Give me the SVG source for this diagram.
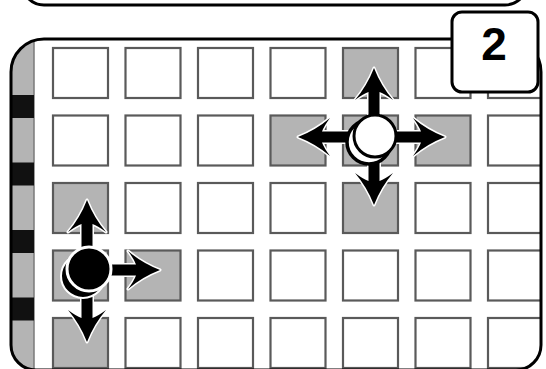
<svg xmlns="http://www.w3.org/2000/svg" width="546" height="369" viewBox="0 0 546 369">
<style>
.cell{fill:#fff;stroke:#5a5a5a;stroke-width:2.2}
.hl{fill:#b4b4b4}
.arrow{fill:#000;stroke:#fff;stroke-width:3;stroke-linejoin:round;paint-order:stroke}
.frame{fill:none;stroke:#000;stroke-width:3}
</style>
<defs>
<clipPath id="pc"><path d="M11,72 A33,33 0 0 1 44,39 L508,39 A33,33 0 0 1 541,72 L541,345 A25,25 0 0 1 516,370 L36,370 A25,25 0 0 1 11,345 Z"/></clipPath>
<path id="ar" d="M0,0 Q7,18 19,32 Q11,26 5.5,24 L5.5,60 L-5.5,60 L-5.5,24 Q-11,26 -19,32 Q-7,18 0,0 Z"/>
</defs>
<rect x="0" y="0" width="546" height="369" fill="#fff"/>
<g id="top-box"><rect x="22" y="-60" width="505" height="65" rx="22" class="frame"/></g>
<g id="board">
<path d="M11,72 A33,33 0 0 1 44,39 L508,39 A33,33 0 0 1 541,72 L541,345 A25,25 0 0 1 516,370 L36,370 A25,25 0 0 1 11,345 Z" fill="#fff"/>
<g clip-path="url(#pc)">
<rect x="11" y="39" width="23" height="331" fill="#b4b4b4"/>
<line x1="34" y1="39" x2="34" y2="370" stroke="#7a7a7a" stroke-width="1.5"/>
<rect x="11" y="95" width="23" height="23" fill="#111"/>
<rect x="11" y="162.5" width="23" height="23" fill="#111"/>
<rect x="11" y="230" width="23" height="23" fill="#111"/>
<rect x="11" y="297.5" width="23" height="23" fill="#111"/>
<g id="cells">
<rect class="cell" x="53" y="48" width="55" height="50"/><rect class="cell" x="125.5" y="48" width="55" height="50"/><rect class="cell" x="198" y="48" width="55" height="50"/><rect class="cell" x="270.5" y="48" width="55" height="50"/><rect class="cell hl" x="343" y="48" width="55" height="50"/><rect class="cell" x="415.5" y="48" width="55" height="50"/><rect class="cell" x="488" y="48" width="55" height="50"/>
<rect class="cell" x="53" y="115.5" width="55" height="50"/><rect class="cell" x="125.5" y="115.5" width="55" height="50"/><rect class="cell" x="198" y="115.5" width="55" height="50"/><rect class="cell hl" x="270.5" y="115.5" width="55" height="50"/><rect class="cell hl" x="343" y="115.5" width="55" height="50"/><rect class="cell hl" x="415.5" y="115.5" width="55" height="50"/><rect class="cell" x="488" y="115.5" width="55" height="50"/>
<rect class="cell hl" x="53" y="183" width="55" height="50"/><rect class="cell" x="125.5" y="183" width="55" height="50"/><rect class="cell" x="198" y="183" width="55" height="50"/><rect class="cell" x="270.5" y="183" width="55" height="50"/><rect class="cell hl" x="343" y="183" width="55" height="50"/><rect class="cell" x="415.5" y="183" width="55" height="50"/><rect class="cell" x="488" y="183" width="55" height="50"/>
<rect class="cell hl" x="53" y="250.5" width="55" height="50"/><rect class="cell hl" x="125.5" y="250.5" width="55" height="50"/><rect class="cell" x="198" y="250.5" width="55" height="50"/><rect class="cell" x="270.5" y="250.5" width="55" height="50"/><rect class="cell" x="343" y="250.5" width="55" height="50"/><rect class="cell" x="415.5" y="250.5" width="55" height="50"/><rect class="cell" x="488" y="250.5" width="55" height="50"/>
<rect class="cell hl" x="53" y="318" width="55" height="50"/><rect class="cell" x="125.5" y="318" width="55" height="50"/><rect class="cell" x="198" y="318" width="55" height="50"/><rect class="cell" x="270.5" y="318" width="55" height="50"/><rect class="cell" x="343" y="318" width="55" height="50"/><rect class="cell" x="415.5" y="318" width="55" height="50"/><rect class="cell" x="488" y="318" width="55" height="50"/>
</g>
</g>
<path d="M11,72 A33,33 0 0 1 44,39 L508,39 A33,33 0 0 1 541,72 L541,345 A25,25 0 0 1 516,370 L36,370 A25,25 0 0 1 11,345 Z" class="frame"/>
</g>
<g id="connectors">
<use href="#ar" class="arrow" transform="translate(374,68)"/>
<use href="#ar" class="arrow" transform="translate(298,137) rotate(-90)"/>
<use href="#ar" class="arrow" transform="translate(445,137) rotate(90)"/>
<use href="#ar" class="arrow" transform="translate(374,205) rotate(180)"/>
<use href="#ar" class="arrow" transform="translate(87,200)"/>
<use href="#ar" class="arrow" transform="translate(160,270) rotate(90)"/>
<use href="#ar" class="arrow" transform="translate(87,342) rotate(180)"/>
</g>
<g id="white-token">
<circle cx="369" cy="142" r="22" fill="#fff" stroke="#000" stroke-width="3.5"/>
<circle cx="375" cy="136" r="21" fill="#fff" stroke="#000" stroke-width="3"/>
</g>
<g id="black-token">
<circle cx="83" cy="276" r="22" fill="#000" stroke="#fff" stroke-width="2"/>
<circle cx="89" cy="269" r="22" fill="#000" stroke="#fff" stroke-width="3"/>
</g>
<g id="label-2">
<rect x="452" y="12" width="86" height="80" rx="10" fill="#fff" stroke="#000" stroke-width="3"/>
<text x="494" y="60" text-anchor="middle" font-family="Liberation Sans, Arial, sans-serif" font-weight="bold" font-size="46" fill="#000">2</text>
</g>
</svg>
